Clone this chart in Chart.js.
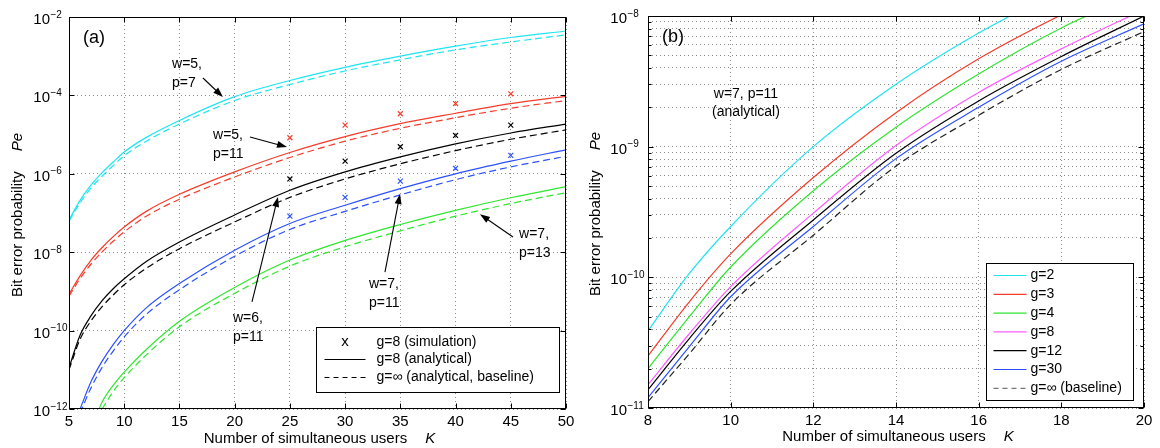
<!DOCTYPE html>
<html>
<head>
<meta charset="utf-8">
<script src="https://cdn.jsdelivr.net/npm/chart.js@4.4.1/dist/chart.umd.min.js"></script>
<style>
  html, body { margin: 0; padding: 0; background: #fff; }
  #wrap { position: relative; width: 1160px; height: 448px; }
  #chartA, #chartB { position: absolute; top: 0; }
  #chartA { left: 0; }
  #chartB { left: 580px; }
</style>
</head>
<body>
<div id="wrap">
  <canvas id="chartA" width="580" height="448"></canvas>
  <canvas id="chartB" width="580" height="448"></canvas>
</div>
<script>
// ---- panel (a): Pe vs K, several (w, p) codes ----
const usersA = [5, 6, 7, 8, 9, 10, 12, 15, 20, 25, 30, 35, 40, 45, 50];
const simUsers = [25, 30, 35, 40, 45];

const w5p7     = [6.6e-8, 2.1e-7, 5.2e-7, 1.07e-6, 2.0e-6, 3.6e-6, 8.5e-6, 2.3e-5, 9.3e-5, 2.4e-4, 5.2e-4, 1.0e-3, 1.8e-3, 3.0e-3, 4.4e-3];
const w5p7Base = [6.2e-8, 1.82e-7, 4.4e-7, 8.7e-7, 1.62e-6, 2.9e-6, 6.8e-6, 1.86e-5, 7.4e-5, 1.9e-4, 4.2e-4, 8.1e-4, 1.45e-3, 2.3e-3, 3.5e-3];

const w5p11     = [8.5e-10, 2.5e-9, 6.3e-9, 1.32e-8, 2.5e-8, 4.4e-8, 1.1e-7, 3.0e-7, 1.12e-6, 3.5e-6, 8.9e-6, 1.9e-5, 3.5e-5, 6.2e-5, 9.5e-5];
const w5p11Base = [7.6e-10, 2.1e-9, 5.0e-9, 1.02e-8, 1.9e-8, 3.3e-8, 8.3e-8, 2.24e-7, 8.3e-7, 2.6e-6, 6.8e-6, 1.45e-5, 2.7e-5, 4.7e-5, 7.4e-5];
const w5p11Sim  = [8.3e-6, 1.74e-5, 3.4e-5, 6.2e-5, 1.1e-4];

const w6p11     = [1.12e-11, 7.6e-11, 2.4e-10, 5.8e-10, 1.17e-9, 2.1e-9, 5.8e-9, 1.82e-8, 8.9e-8, 3.8e-7, 1.12e-6, 2.7e-6, 5.8e-6, 1.1e-5, 1.86e-5];
const w6p11Base = [1.0e-11, 6.0e-11, 1.78e-10, 4.1e-10, 8.1e-10, 1.48e-9, 3.9e-9, 1.23e-8, 5.9e-8, 2.5e-7, 7.4e-7, 1.8e-6, 3.9e-6, 7.6e-6, 1.32e-5];
const w6p11Sim  = [7.4e-7, 2.1e-6, 4.9e-6, 9.5e-6, 1.74e-5];

const w7p11     = [null, 1.0e-12, 5.0e-12, 1.66e-11, 4.4e-11, 1.0e-10, 3.8e-10, 1.58e-9, 1.12e-8, 5.4e-8, 1.58e-7, 4.2e-7, 1.0e-6, 2.1e-6, 4.1e-6];
const w7p11Base = [null, 7.9e-13, 3.5e-12, 1.15e-11, 3.0e-11, 6.9e-11, 2.6e-10, 1.1e-9, 7.9e-9, 3.8e-8, 1.1e-7, 2.9e-7, 7.1e-7, 1.5e-6, 2.8e-6];
const w7p11Sim  = [8.3e-8, 2.5e-7, 6.5e-7, 1.38e-6, 2.95e-6];

const w7p13     = [null, null, 3e-13, 1.5e-12, 4.0e-12, 8.7e-12, 3.3e-11, 1.74e-10, 1.26e-9, 6.3e-9, 2.0e-8, 5.1e-8, 1.17e-7, 2.45e-7, 4.7e-7];
const w7p13Base = [null, null, null, 1.0e-12, 2.8e-12, 6.3e-12, 2.4e-11, 1.26e-10, 8.9e-10, 4.4e-9, 1.38e-8, 3.5e-8, 8.3e-8, 1.74e-7, 3.3e-7];

const xTicksA = [5, 10, 15, 20, 25, 30, 35, 40, 45, 50];
const yTicksA = [1e-12, 1e-10, 1e-8, 1e-6, 1e-4, 1e-2];

// ---- panel (b): w=7, p=11, different g ----
const usersB = [8, 9, 10, 12, 14, 16, 18, 20];
const g2   = [3.9e-11, 1.07e-10, 2.45e-10, 1.0e-9, 3.0e-9, 7.4e-9, 1.6e-8, null];
const g3   = [2.5e-11, 6.5e-11, 1.51e-10, 5.8e-10, 1.82e-9, 4.7e-9, 1.02e-8, 2.0e-8];
const g4   = [2.0e-11, 5.0e-11, 1.2e-10, 4.6e-10, 1.41e-9, 3.6e-9, 8.1e-9, 1.58e-8];
const g8   = [1.51e-11, 3.7e-11, 8.5e-11, 3.1e-10, 1.02e-9, 2.6e-9, 5.6e-9, 1.12e-8];
const g12  = [1.38e-11, 3.4e-11, 7.8e-11, 2.75e-10, 8.9e-10, 2.24e-9, 4.9e-9, 1.0e-8];
const g30  = [1.2e-11, 2.95e-11, 7.1e-11, 2.45e-10, 8.1e-10, 2.0e-9, 4.5e-9, 8.7e-9];
const gInf = [1.12e-11, 2.6e-11, 6.2e-11, 2.1e-10, 7.1e-10, 1.74e-9, 3.9e-9, 7.6e-9];

const xTicksB = [8, 10, 12, 14, 16, 18, 20];
const yDecadesB = [1e-11, 1e-10, 1e-9, 1e-8];
const mantissas = [2, 3, 4, 5, 6, 7, 8, 9];

const FONT = '"Liberation Sans", Arial, Helvetica, sans-serif';
const CYAN = '#1fe4f0', RED = '#f53c2a', GREEN = '#2fe62f', BLUE = '#2b50ff', MAGENTA = '#ff5cff', BLACK = '#000';

Chart.defaults.font.family = FONT;
Chart.defaults.color = '#000';

const pairs = (xs, ys) => xs.map((x, i) => ({ x, y: ys[i] }));

function curve(xs, ys, color, dashed, label) {
    return {
        label: label || '',
        data: pairs(xs, ys),
        showLine: true,
        borderColor: color,
        borderWidth: 1.2,
        borderDash: dashed ? [7, 4] : [],
        pointRadius: 0,
        cubicInterpolationMode: 'monotone',
        fill: false
    };
}

function sims(ys, color) {
    return {
        data: pairs(simUsers, ys),
        showLine: false,
        pointStyle: 'crossRot',
        pointRadius: 3.5,
        borderColor: color,
        borderWidth: 1.2
    };
}

function drawArrow(ctx, x1, y1, x2, y2) {
    const ang = Math.atan2(y2 - y1, x2 - x1);
    const L = 10, W = 3.5;
    const c = Math.cos(ang), s = Math.sin(ang);
    ctx.beginPath();
    ctx.moveTo(x1, y1);
    ctx.lineTo(x2 - L * 0.8 * c, y2 - L * 0.8 * s);
    ctx.stroke();
    ctx.beginPath();
    ctx.moveTo(x2, y2);
    ctx.lineTo(x2 - L * c + W * s, y2 - L * s - W * c);
    ctx.lineTo(x2 - L * c - W * s, y2 - L * s + W * c);
    ctx.closePath();
    ctx.fill();
}

// matlab-like box, inward ticks, superscript labels, titles, notes, legend
const frame = {
    id: 'frame',
    afterDraw(chart, args, o) {
        const { ctx, chartArea: a } = chart;
        const xs = chart.scales.x, ys = chart.scales.y;
        ctx.save();
        ctx.strokeStyle = '#000';
        ctx.fillStyle = '#000';
        ctx.lineWidth = 1;
        ctx.setLineDash([]);

        const L = Math.round(a.left) + 0.5, R = Math.round(a.right) - 0.5;
        const T = Math.round(a.top) + 0.5, B = Math.round(a.bottom) - 0.5;

        ctx.beginPath();
        o.xTicks.forEach(v => {
            const px = Math.round(xs.getPixelForValue(v)) + 0.5;
            ctx.moveTo(px, B); ctx.lineTo(px, B - 5);
            ctx.moveTo(px, T); ctx.lineTo(px, T + 5);
        });
        o.yMajor.forEach(v => {
            const py = Math.round(ys.getPixelForValue(v)) + 0.5;
            ctx.moveTo(L, py); ctx.lineTo(L + 5, py);
            ctx.moveTo(R, py); ctx.lineTo(R - 5, py);
        });
        (o.yMinor || []).forEach(v => {
            const py = Math.round(ys.getPixelForValue(v)) + 0.5;
            ctx.moveTo(L, py); ctx.lineTo(L + 3, py);
            ctx.moveTo(R, py); ctx.lineTo(R - 3, py);
        });
        ctx.stroke();
        ctx.strokeRect(L, T, R - L, B - T);

        // y tick labels 10^n
        o.yMajor.forEach(v => {
            const py = ys.getPixelForValue(v);
            const e = Math.round(Math.log10(v));
            const right = a.left - o.labelGap;
            ctx.font = '15px ' + FONT;
            ctx.textAlign = 'right';
            ctx.textBaseline = 'alphabetic';
            ctx.fillText('10', right, py + 7);
            ctx.font = '10px ' + FONT;
            ctx.textAlign = 'left';
            ctx.fillText((e < 0 ? '\u2212' : '') + Math.abs(e), right + 0.5, py + 0.5);
        });

        // x title
        const main = 'Number of simultaneous users', gap = 18;
        ctx.font = '15px ' + FONT;
        const w1 = ctx.measureText(main).width;
        ctx.font = 'italic 15px ' + FONT;
        const w2 = ctx.measureText('K').width;
        const cx = (a.left + a.right) / 2 + 2;
        let sx = cx - (w1 + gap + w2) / 2;
        ctx.textAlign = 'left';
        ctx.textBaseline = 'alphabetic';
        ctx.font = '15px ' + FONT;
        ctx.fillText(main, sx, o.xTitleBase);
        ctx.font = 'italic 15px ' + FONT;
        ctx.fillText('K', sx + w1 + gap, o.xTitleBase);

        // y title
        ctx.save();
        ctx.translate(o.yTitleX, (a.top + a.bottom) / 2 + 2);
        ctx.rotate(-Math.PI / 2);
        ctx.font = '15px ' + FONT;
        const t1 = 'Bit error probability';
        const v1 = ctx.measureText(t1).width;
        ctx.font = 'italic 15px ' + FONT;
        const v2 = ctx.measureText('Pe').width;
        const st = -(v1 + 20 + v2) / 2;
        ctx.textBaseline = 'middle';
        ctx.font = '15px ' + FONT;
        ctx.fillText(t1, st, 0);
        ctx.font = 'italic 15px ' + FONT;
        ctx.fillText('Pe', st + v1 + 20, 0);
        ctx.restore();

        // panel tag
        ctx.font = '18px ' + FONT;
        ctx.textAlign = 'left';
        ctx.fillText(o.tag, a.left + 14, a.top + 26);

        // notes and arrows (anchored in data units)
        ctx.font = '14px ' + FONT;
        (o.notes || []).forEach(n => {
            const px = xs.getPixelForValue(n.k), py = ys.getPixelForValue(n.pe);
            ctx.textAlign = n.align || 'left';
            n.lines.forEach((t, i) => ctx.fillText(t, px, py + i * (n.dy || 19)));
        });
        ctx.lineWidth = 1.1;
        (o.arrows || []).forEach(ar => {
            drawArrow(ctx,
                xs.getPixelForValue(ar.from[0]), ys.getPixelForValue(ar.from[1]),
                xs.getPixelForValue(ar.to[0]), ys.getPixelForValue(ar.to[1]));
        });

        // legend box
        const lg = o.legend;
        const bx = Math.round(a.right - lg.right - lg.w) + 0.5;
        const by = Math.round(a.bottom - lg.bottom - lg.h) + 0.5;
        ctx.fillStyle = '#fff';
        ctx.fillRect(bx, by, lg.w, lg.h);
        ctx.lineWidth = 1;
        ctx.strokeStyle = '#000';
        ctx.strokeRect(bx, by, lg.w, lg.h);
        ctx.font = '14px ' + FONT;
        ctx.textBaseline = 'middle';
        lg.rows.forEach(r => {
            const ry = by + r.y;
            if (r.mark) {
                ctx.fillStyle = '#000';
                ctx.textAlign = 'center';
                ctx.font = '15px ' + FONT;
                ctx.fillText(r.mark, bx + (lg.x0 + lg.x1) / 2, ry - 1);
                ctx.font = '14px ' + FONT;
            } else {
                ctx.strokeStyle = r.color;
                ctx.lineWidth = 1.2;
                ctx.setLineDash(r.dash || []);
                ctx.beginPath();
                ctx.moveTo(bx + lg.x0, ry);
                ctx.lineTo(bx + lg.x1, ry);
                ctx.stroke();
                ctx.setLineDash([]);
            }
            ctx.fillStyle = '#000';
            ctx.textAlign = 'left';
            ctx.fillText(r.text, bx + lg.tx, ry);
        });
        ctx.restore();
    }
};

const gridOpts = { color: '#8c8c8c', lineWidth: 1, drawTicks: false };
const borderOpts = { display: false, dash: [1, 3] };

new Chart(document.getElementById('chartA'), {
    type: 'scatter',
    data: {
        datasets: [
            curve(usersA, w5p7, CYAN, false), curve(usersA, w5p7Base, CYAN, true),
            curve(usersA, w5p11, RED, false), curve(usersA, w5p11Base, RED, true),
            curve(usersA, w6p11, BLACK, false), curve(usersA, w6p11Base, BLACK, true),
            curve(usersA, w7p11, BLUE, false), curve(usersA, w7p11Base, BLUE, true),
            curve(usersA, w7p13, GREEN, false), curve(usersA, w7p13Base, GREEN, true),
            sims(w5p11Sim, RED), sims(w6p11Sim, BLACK), sims(w7p11Sim, BLUE)
        ]
    },
    options: {
        responsive: false,
        animation: false,
        events: [],
        layout: { padding: { top: 17, right: 14, left: 0, bottom: 0 } },
        plugins: {
            legend: { display: false },
            tooltip: { enabled: false },
            frame: {
                tag: '(a)',
                xTicks: xTicksA,
                yMajor: yTicksA,
                labelGap: 19,
                xTitleBase: 443,
                yTitleX: 18,
                notes: [
                    { k: 14.33, pe: 5.0e-4, lines: ['w=5,', 'p=7'] },
                    { k: 18.04, pe: 7.8e-6, lines: ['w=5,', 'p=11'] },
                    { k: 19.85, pe: 1.66e-10, lines: ['w=6,', 'p=11'] },
                    { k: 32.16, pe: 1.23e-9, lines: ['w=7,', 'p=11'] },
                    { k: 45.75, pe: 2.3e-8, lines: ['w=7,', 'p=13'] }
                ],
                arrows: [
                    { from: [17.13, 2.78e-4], to: [18.94, 9.1e-5] },
                    { from: [21.39, 8.7e-6], to: [24.74, 4.8e-6] },
                    { from: [21.57, 5.4e-10], to: [23.92, 2.57e-7] },
                    { from: [33.61, 3.1e-9], to: [34.97, 3.05e-7] },
                    { from: [45.2, 2.45e-8], to: [42.21, 9.3e-8] }
                ],
                legend: {
                    right: 7, bottom: 17, w: 243, h: 65, x0: 8, x1: 49, tx: 60,
                    rows: [
                        { y: 15, mark: 'x', text: 'g=8 (simulation)' },
                        { y: 32, color: '#000', text: 'g=8 (analytical)' },
                        { y: 50, color: '#000', dash: [5, 4], text: 'g=\u221e (analytical, baseline)' }
                    ]
                }
            }
        },
        scales: {
            x: {
                type: 'linear', min: 5, max: 50,
                ticks: { stepSize: 5, font: { size: 15 }, color: '#000', padding: 4, maxRotation: 0 },
                grid: gridOpts, border: borderOpts,
                afterFit: s => { s.height = 39; }
            },
            y: {
                type: 'logarithmic', min: 1e-12, max: 1e-2,
                ticks: { display: false },
                grid: gridOpts, border: borderOpts,
                afterBuildTicks: s => { s.ticks = yTicksA.map(v => ({ value: v })); },
                afterFit: s => { s.width = 69; }
            }
        }
    },
    plugins: [frame]
});

const yMinorB = [];
yDecadesB.slice(0, -1).forEach(d => mantissas.forEach(m => yMinorB.push(m * d)));

const seriesB = [
    { label: 'g=2', ys: g2, color: CYAN },
    { label: 'g=3', ys: g3, color: RED },
    { label: 'g=4', ys: g4, color: GREEN },
    { label: 'g=8', ys: g8, color: MAGENTA },
    { label: 'g=12', ys: g12, color: BLACK },
    { label: 'g=30', ys: g30, color: BLUE }
];

new Chart(document.getElementById('chartB'), {
    type: 'scatter',
    data: {
        datasets: seriesB.map(s => curve(usersB, s.ys, s.color, false, s.label))
            .concat([curve(usersB, gInf, '#222', true, 'g=\u221e (baseline)')])
    },
    options: {
        responsive: false,
        animation: false,
        events: [],
        layout: { padding: { top: 16, right: 16, left: 0, bottom: 0 } },
        plugins: {
            legend: { display: false },
            tooltip: { enabled: false },
            frame: {
                tag: '(b)',
                xTicks: xTicksB,
                yMajor: yDecadesB,
                yMinor: yMinorB,
                labelGap: 21,
                xTitleBase: 441,
                yTitleX: 16,
                notes: [
                    { k: 10.37, pe: 2.36e-9, lines: ['w=7, p=11', '(analytical)'], align: 'center', dy: 18 }
                ],
                arrows: [],
                legend: {
                    right: 11, bottom: 8, w: 147, h: 137, x0: 7, x1: 40, tx: 44,
                    rows: seriesB.map((s, i) => ({ y: 12 + i * 18.8, color: s.color, text: s.label }))
                        .concat([{ y: 12 + 6 * 18.8, color: '#777', dash: [5, 4], text: 'g=\u221e (baseline)' }])
                }
            }
        },
        scales: {
            x: {
                type: 'linear', min: 8, max: 20,
                ticks: { stepSize: 2, font: { size: 15 }, color: '#000', padding: 4, maxRotation: 0 },
                grid: gridOpts, border: borderOpts,
                afterFit: s => { s.height = 40; }
            },
            y: {
                type: 'logarithmic', min: 1e-11, max: 1e-8,
                ticks: { display: false },
                grid: gridOpts, border: borderOpts,
                afterBuildTicks: s => { s.ticks = yDecadesB.concat(yMinorB).map(v => ({ value: v })); },
                afterFit: s => { s.width = 68; }
            }
        }
    },
    plugins: [frame]
});
</script>
</body>
</html>
